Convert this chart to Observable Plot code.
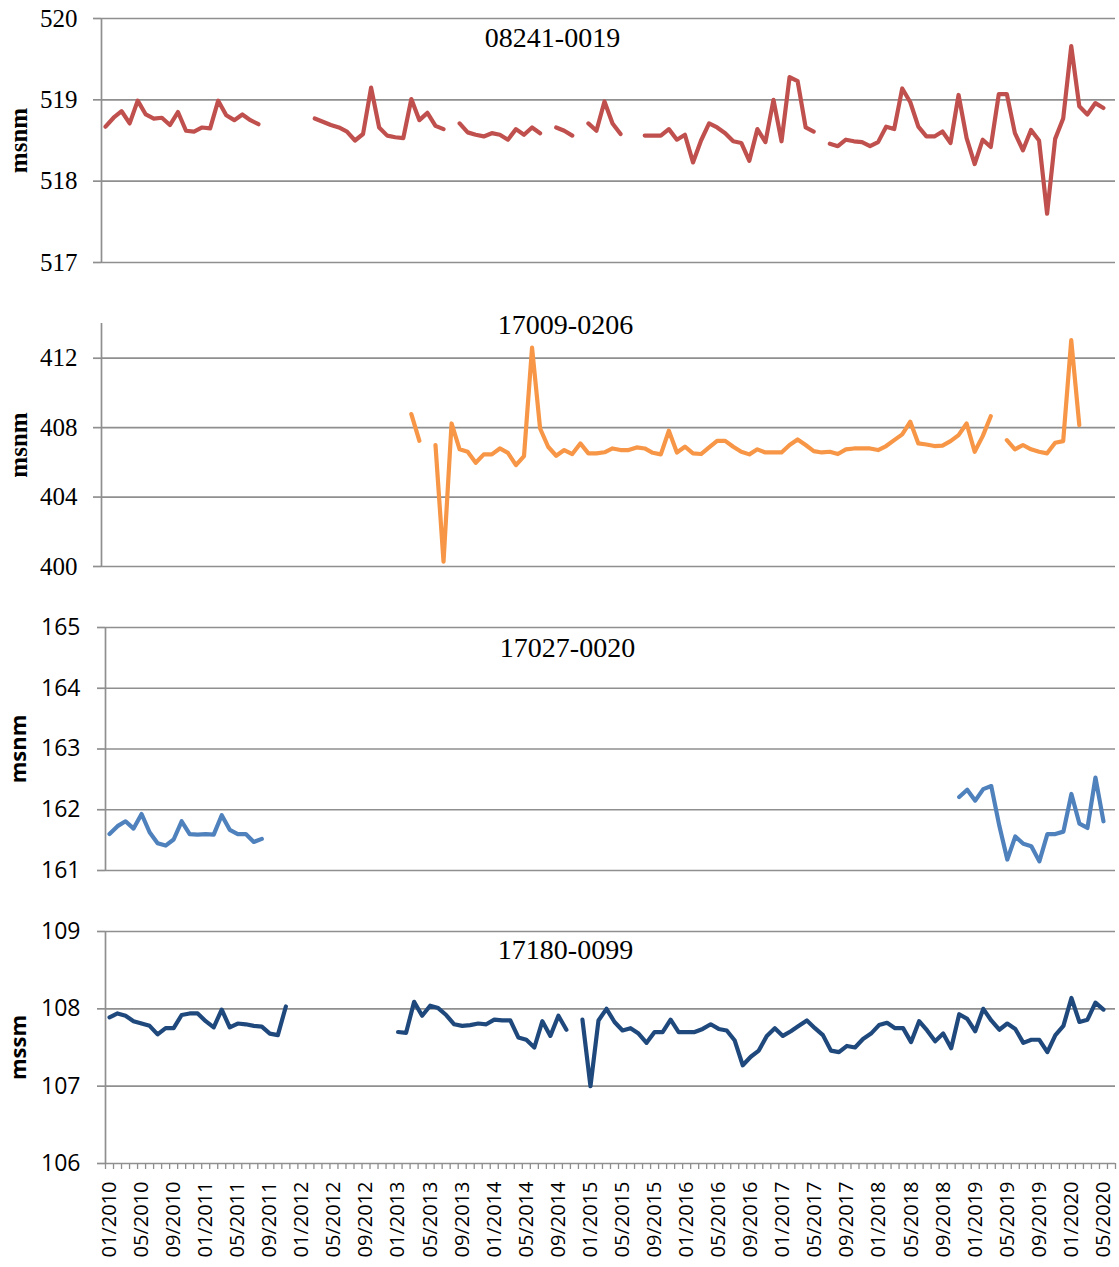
<!DOCTYPE html>
<html>
<head>
<meta charset="utf-8">
<script src="https://cdn.jsdelivr.net/npm/d3@7"></script>
<script src="https://cdn.jsdelivr.net/npm/@observablehq/plot@0.6"></script>
<style>
  html, body { margin: 0; padding: 0; background: white; }
  #chart { width: 1119px; }
  #chart svg { display: block; }
</style>
</head>
<body>
<div id="chart"></div>
<script>
// Monthly categories 01/2010 .. 06/2020 (126 months), index 0..125
const tickLabels = ["01/2010","05/2010","09/2010","01/2011","05/2011","09/2011","01/2012","05/2012",
  "09/2012","01/2013","05/2013","09/2013","01/2014","05/2014","09/2014","01/2015","05/2015","09/2015",
  "01/2016","05/2016","09/2016","01/2017","05/2017","09/2017","01/2018","05/2018","09/2018","01/2019",
  "05/2019","09/2019","01/2020","05/2020"];

const _ = null;

const well08241 = [
  518.67,518.78,518.86,518.71,518.99,518.82,518.77,518.78,518.69,518.85,
  518.62,518.61,518.66,518.65,518.99,518.81,518.75,518.82,518.75,518.70,
  _,_,_,_,_,_,518.77,518.73,518.69,518.66,
  518.61,518.50,518.58,519.15,518.66,518.56,518.54,518.53,519.01,518.75,
  518.84,518.68,518.64,_,518.71,518.60,518.57,518.55,518.59,518.57,
  518.51,518.64,518.57,518.66,518.59,_,518.66,518.62,518.56,_,
  518.71,518.62,518.98,518.71,518.58,_,_,518.56,518.56,518.56,
  518.64,518.51,518.57,518.23,518.50,518.71,518.66,518.59,518.49,518.47,
  518.25,518.64,518.48,519.00,518.49,519.28,519.23,518.66,518.61,_,
  518.46,518.43,518.51,518.49,518.48,518.43,518.48,518.67,518.64,519.14,
  518.97,518.67,518.55,518.55,518.61,518.47,519.06,518.53,518.21,518.51,
  518.42,519.07,519.07,518.59,518.38,518.63,518.50,517.60,518.52,518.77,
  519.66,518.92,518.82,518.96,518.90,_
];

const well17009 = [
  _,_,_,_,_,_,_,_,_,_,
  _,_,_,_,_,_,_,_,_,_,
  _,_,_,_,_,_,_,_,_,_,
  _,_,_,_,_,_,_,_,408.78,407.24,
  _,407.00,400.28,408.24,406.75,406.61,405.98,406.46,406.46,406.80,
  406.55,405.84,406.36,412.61,407.95,406.90,406.38,406.71,406.48,407.09,
  406.52,406.52,406.58,406.80,406.71,406.71,406.86,406.80,406.55,406.46,
  407.82,406.57,406.90,406.52,406.48,406.86,407.24,407.24,406.90,406.61,
  406.46,406.75,406.57,406.57,406.57,407.00,407.32,407.00,406.65,406.57,
  406.61,406.48,406.75,406.80,406.80,406.80,406.71,406.94,407.28,407.61,
  408.34,407.09,407.03,406.94,406.96,407.22,407.57,408.24,406.61,407.51,
  408.66,_,407.28,406.75,407.00,406.75,406.61,406.52,407.13,407.22,
  413.04,408.15,_,_,_,_
];

const well17027 = [
  161.60,161.73,161.81,161.69,161.93,161.63,161.45,161.41,161.51,161.81,
  161.60,161.59,161.60,161.59,161.91,161.67,161.60,161.60,161.47,161.52,
  _,_,_,_,_,_,_,_,_,_,
  _,_,_,_,_,_,_,_,_,_,
  _,_,_,_,_,_,_,_,_,_,
  _,_,_,_,_,_,_,_,_,_,
  _,_,_,_,_,_,_,_,_,_,
  _,_,_,_,_,_,_,_,_,_,
  _,_,_,_,_,_,_,_,_,_,
  _,_,_,_,_,_,_,_,_,_,
  _,_,_,_,_,_,162.21,162.33,162.15,162.34,
  162.39,161.74,161.18,161.56,161.44,161.40,161.15,161.60,161.60,161.64,
  162.26,161.77,161.70,162.53,161.81,_
];

const well17180 = [
  107.89,107.94,107.91,107.84,107.81,107.78,107.67,107.75,107.75,107.92,
  107.94,107.94,107.84,107.76,107.99,107.76,107.81,107.80,107.78,107.77,
  107.68,107.66,108.03,_,_,_,_,_,_,_,
  _,_,_,_,_,_,107.70,107.69,108.09,107.91,
  108.04,108.01,107.92,107.80,107.78,107.79,107.81,107.80,107.86,107.85,
  107.85,107.63,107.60,107.50,107.84,107.65,107.91,107.73,_,107.86,
  107.00,107.85,108.00,107.83,107.72,107.75,107.68,107.56,107.70,107.70,
  107.86,107.70,107.70,107.70,107.74,107.80,107.74,107.72,107.59,107.27,
  107.38,107.46,107.65,107.75,107.65,107.71,107.78,107.85,107.75,107.66,
  107.46,107.44,107.52,107.50,107.61,107.68,107.79,107.82,107.75,107.75,
  107.57,107.84,107.72,107.58,107.68,107.49,107.93,107.87,107.71,108.00,
  107.85,107.73,107.81,107.74,107.56,107.60,107.60,107.44,107.66,107.78,
  108.14,107.83,107.86,108.08,107.99,_
];

const panelTitles = ["08241-0019", "17009-0206", "17027-0020", "17180-0099"];
const axisTitles = ["msnm", "msnm", "msnm", "mssm"];
const yTicks = [[517,518,519,520],[400,404,408,412],[161,162,163,164,165],[106,107,108,109]];
const yDomains = [[517,520],[400,414],[161,165],[106,109]];
const colors = ["#C0504D", "#F79646", "#4F81BD", "#1F497D"];
const seriesList = [well08241, well17009, well17027, well17180];

const N = 126;
const GRID = "#8f8f8f";
const SERIF = "Liberation Serif";
const SANS = "Open Sans";

const layout = [
  {height: 300, mt: 18, mb: 38, ml: 101, tickFont: SERIF, tickFs: 25, tlx: -24, titleFont: SERIF, titleFs: 25, tdx: 451, tdy: 19.5, atx: 18.5},
  {height: 310, mt: 23, mb: 44, ml: 101, tickFont: SERIF, tickFs: 25, tlx: -24, titleFont: SERIF, titleFs: 25, tdx: 464, tdy: 2, atx: 18.5},
  {height: 300, mt: 17, mb: 40, ml: 105, tickFont: SANS, tickFs: 23, tlx: -25, titleFont: SANS, titleFs: 22, tdx: 462, tdy: 21, atx: 18},
  {height: 357, mt: 21, mb: 104, ml: 105, tickFont: SANS, tickFs: 23, tlx: -25, titleFont: SANS, titleFs: 22, tdx: 460, tdy: 18.5, atx: 18}
];

const chart = document.getElementById("chart");

seriesList.forEach((series, k) => {
  const L = layout[k];
  const data = series.map((v, i) => ({i, v}));
  const isLast = k === seriesList.length - 1;
  const marks = [
    Plot.ruleY(yTicks[k], {stroke: GRID, strokeWidth: 1.7}),
    Plot.ruleX([-0.5], {stroke: GRID, strokeWidth: 1.7}),
    Plot.axisY(yTicks[k], {tickSize: 8, tickFormat: () => "", stroke: GRID, strokeWidth: 1.7, label: null}),
    Plot.text(yTicks[k], {
      y: d => d, text: d => String(d), frameAnchor: "left", dx: L.tlx,
      textAnchor: "end", lineAnchor: "middle",
      fontFamily: L.tickFont, fontSize: L.tickFs, fill: "black"
    }),
    Plot.lineY(data, {
      x: "i", y: "v", stroke: colors[k], strokeWidth: 4.2,
      strokeLinejoin: "round", strokeLinecap: "round"
    }),
    Plot.text([panelTitles[k]], {
      frameAnchor: "top-left", dx: L.tdx, dy: L.tdy, textAnchor: "middle", lineAnchor: "middle",
      fontFamily: SERIF, fontSize: 28, fill: "black"
    }),
    Plot.text([axisTitles[k]], {
      frameAnchor: "left", dx: L.atx - L.ml, rotate: -90, textAnchor: "middle", lineAnchor: "middle",
      fontFamily: L.titleFont, fontSize: L.titleFs, fontWeight: "bold", fill: "black"
    })
  ];
  if (isLast) {
    const boundaries = d3.range(N + 1).map(i => i - 0.5);
    const labelIdx = tickLabels.map((_, j) => j * 4);
    marks.push(
      Plot.axisX(boundaries, {tickSize: 6, tickFormat: () => "", stroke: GRID, strokeWidth: 1.3, label: null}),
      Plot.text(labelIdx, {
        x: d => d, text: d => tickLabels[d / 4], frameAnchor: "bottom", dy: 18,
        rotate: -90, textAnchor: "end", lineAnchor: "middle",
        fontFamily: SANS, fontSize: 20, fill: "black"
      })
    );
  }
  const svg = Plot.plot({
    width: 1119,
    height: L.height,
    marginLeft: L.ml,
    marginRight: 4,
    marginTop: L.mt,
    marginBottom: L.mb,
    x: isLast ? {type: "linear", domain: [-0.5, N - 0.5]}
              : {type: "linear", domain: [-0.5, N - 0.5], axis: null},
    y: {type: "linear", domain: yDomains[k], axis: null},
    style: {background: "white", overflow: "visible"},
    marks
  });
  chart.appendChild(svg);
});
</script>
</body>
</html>
